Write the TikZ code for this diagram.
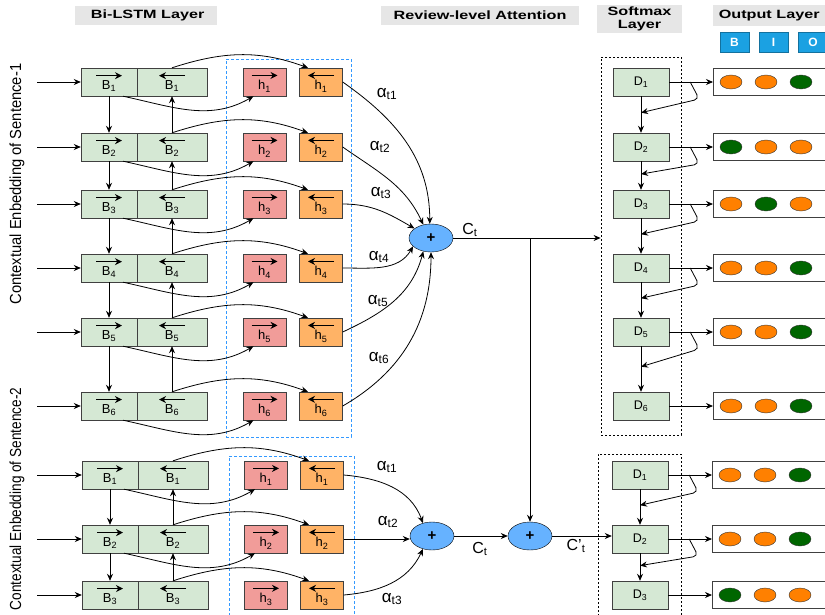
\documentclass[tikz,border=0pt]{standalone}
\usepackage{fontspec}
\setmainfont{Liberation Sans}
\usetikzlibrary{arrows.meta,shapes.geometric,calc}

\definecolor{bgreen}{HTML}{D5E8D4}
\definecolor{hred}{HTML}{F19C99}
\definecolor{horange}{HTML}{FFB366}
\definecolor{sumblue}{HTML}{66B2FF}
\definecolor{dashblue}{HTML}{3399FF}
\definecolor{hdgray}{HTML}{E6E6E6}
\definecolor{tagblue}{HTML}{1BA1E2}
\definecolor{dor}{HTML}{FF8000}
\definecolor{dgr}{HTML}{006600}

% arrow glyphs above the cell letters
\newcommand{\rarrow}{\tikz[baseline=-0.6ex]\draw[line width=1.3pt,-{Stealth[length=7pt,width=7pt]}] (0pt,0pt) -- (26pt,0pt);}
\newcommand{\larrow}{\tikz[baseline=-0.6ex]\draw[line width=1.3pt,-{Stealth[length=7pt,width=7pt]}] (26pt,0pt) -- (0pt,0pt);}
\newcommand{\fw}[2]{\shortstack{\rarrow\\[-2pt]#1\textsubscript{#2}}}
\newcommand{\bw}[2]{\shortstack{\larrow\\[-2pt]#1\textsubscript{#2}}}
\newcommand{\hd}[1]{\scalebox{1.35}[1]{#1}}

\begin{document}
\begin{tikzpicture}[x=1pt, y=1pt, font=\fontsize{13}{13}\selectfont,
  arr/.style={-{Stealth[length=7pt,width=6pt]}, line width=0.8pt},
  fcell/.style={draw=black!75, fill=bgreen, minimum width=56pt, minimum height=28pt, inner sep=0pt},
  bcell/.style={fcell, minimum width=70pt},
  hfw/.style={draw=black!75, fill=hred, minimum width=43pt, minimum height=28pt, inner sep=0pt},
  hbw/.style={hfw, fill=horange},
  dcell/.style={fcell, font=\fontsize{12.5}{13}\selectfont},
  outrow/.style={draw=black!75, fill=white, minimum width=122pt, minimum height=27pt, anchor=west},
  dot/.style={ellipse, draw=black!80, minimum width=22pt, minimum height=14pt, inner sep=0pt},
  sum/.style={ellipse, draw=black, fill=sumblue, minimum width=44pt, minimum height=28pt, inner sep=0pt, font=\bfseries\fontsize{15}{15}\selectfont},
  head/.style={fill=hdgray, inner sep=0pt, font=\bfseries\fontsize{12}{13}\selectfont},
  tag/.style={fill=tagblue, draw=tagblue!70!black, text=white, minimum width=29pt, minimum height=20pt, inner sep=0pt, font=\bfseries\fontsize{12}{12}\selectfont},
  blbox/.style={draw=dashblue, line width=0.8pt, dash pattern=on 3pt off 2pt},
  smbox/.style={draw=black, line width=0.8pt, dash pattern=on 2pt off 2pt},
  alab/.style={font=\fontsize{17}{17}\selectfont},
  clab/.style={font=\fontsize{16}{16}\selectfont}
]
\useasboundingbox (0,0) rectangle (825,-614);

% headers
\node[head, minimum width=142pt, minimum height=19pt, anchor=west] (hdlstm) at (75,-15.5) {\hspace{3pt}\hd{Bi-LSTM Layer}\hspace{22pt}};
\node[head, minimum width=198pt, minimum height=19pt] (hdatt) at (480,-15.5) {\hd{Review-level Attention}};
\node[head, minimum width=85pt, minimum height=28pt, align=center] (hdsm) at (639.5,-19) {\hd{Softmax}\\\hd{Layer}};
\node[head, minimum width=112pt, minimum height=21pt, anchor=west] (hdout) at (713,-15.5) {\hd{Output Layer}};
\node[tag] (tagb) at (734.5,-42) {B};
\node[tag] (tagi) at (773.5,-42) {I};
\node[tag] (tago) at (813,-42) {O};

% dashed groups
\node[blbox, minimum width=125pt, minimum height=378pt] (grp1) at (288.5,-248) {};
\node[blbox, minimum width=125pt, minimum height=168pt] (grp2) at (291.5,-540) {};
\node[smbox, minimum width=80pt, minimum height=378pt] (smtop) at (641,-246) {};
\node[smbox, minimum width=83pt, minimum height=170pt] (smbot) at (639.5,-539) {};

\node[rotate=90, font=\fontsize{16}{16}\selectfont] (emb1) at (17,-184) {\scalebox{0.92}[1]{Contextual Enbedding of Sentence-1}};
\node[rotate=90, font=\fontsize{16}{16}\selectfont] (emb2) at (17,-499) {\scalebox{0.85}[1]{Contextual Enbedding of Sentence-2}};

% sentence 1
\foreach \y/\ca/\cb/\cc [count=\i] in {82/dor/dor/dgr, 147/dgr/dor/dor, 204/dor/dgr/dor,
                                       268/dor/dor/dgr, 332/dor/dor/dgr, 406/dor/dor/dgr} {
  \node[fcell] (f\i) at (109,-\y) {\fw{B}{\i}};
  \node[bcell] (b\i) at (172,-\y) {\bw{B}{\i}};
  \node[hfw] (hf\i) at (264.5,-\y) {\fw{h}{\i}};
  \node[hbw] (hb\i) at (321,-\y) {\bw{h}{\i}};
  \node[dcell] (d\i) at (641,-\y) {D\textsubscript{\i}};
  \node[outrow] (o\i) at (713,-\y) {};
  \node[dot, fill=\ca] (c\i-1) at (731,-\y) {};
  \node[dot, fill=\cb] (c\i-2) at (766,-\y) {};
  \node[dot, fill=\cc] (c\i-3) at (801,-\y) {};
  \coordinate (in\i) at (37,-\y);
  \draw[arr] (in\i) -- (f\i);
  \draw[arr] (d\i) -- (o\i);
  \draw[arr] ([xshift=14pt]f\i.south) to[out=-12,in=-150] ([xshift=-11pt]hf\i.south);
  \draw[arr] (b\i.north) to[out=18,in=160] ([xshift=-13pt]hb\i.north);
}
\foreach \i/\j in {1/2,2/3,3/4,4/5,5/6} {
  \draw[arr] (f\i) -- (f\j);
  \draw[arr] (b\j) -- (b\i);
  \draw[arr] (d\i) -- (d\j);
  \draw[arr, rounded corners=5pt] ([xshift=21pt]d\i.east) -- ++(9,-17) -- ($(d\i.south)!0.45!(d\j.north)$);
}

\node[sum] (s1) at (431,-238) {+};
\draw[arr] (hb1.east) to[out=-35,in=90] (s1.95);
\draw[arr] (hb2.east) to[out=-35,in=115] (s1.120);
\draw[arr] (hb3.east) to[out=0,in=150] (s1.150);
\draw[arr] (hb4.east) to[out=0,in=-120] (s1.205);
\draw[arr] (hb5.east) to[out=25,in=-105] (s1.240);
\draw[arr] (hb6.east) to[out=30,in=-90] (s1.270);
\foreach \x/\y [count=\i] in {387/94, 380/147, 381/193, 379/257, 378/301, 379/358}
  \node[alab] (a\i) at (\x,-\y) {α\textsubscript{t\i}};
\node[clab] (ct1) at (470,-230) {C\textsubscript{t}};
\draw[arr] (s1) -- (s1 -| smtop.west);

% sentence 2
\foreach \y/\ca/\cb/\cc [count=\i] in {475/dor/dor/dgr, 539/dor/dor/dgr, 595/dgr/dor/dor} {
  \node[fcell] (lf\i) at (110,-\y) {\fw{B}{\i}};
  \node[bcell] (lb\i) at (173,-\y) {\bw{B}{\i}};
  \node[hfw] (lhf\i) at (266,-\y) {\fw{h}{\i}};
  \node[hbw] (lhb\i) at (322,-\y) {\bw{h}{\i}};
  \node[dcell] (ld\i) at (640,-\y) {D\textsubscript{\i}};
  \node[outrow] (lo\i) at (712,-\y) {};
  \node[dot, fill=\ca] (lc\i-1) at (730,-\y) {};
  \node[dot, fill=\cb] (lc\i-2) at (765,-\y) {};
  \node[dot, fill=\cc] (lc\i-3) at (800,-\y) {};
  \coordinate (lin\i) at (37,-\y);
  \draw[arr] (lin\i) -- (lf\i);
  \draw[arr] (ld\i) -- (lo\i);
  \draw[arr] (lb\i.north) to[out=18,in=160] ([xshift=-13pt]lhb\i.north);
}
\foreach \i/\j in {1/2,2/3} {
  \draw[arr] ([xshift=14pt]lf\i.south) to[out=-12,in=-150] ([xshift=-11pt]lhf\i.south);
  \draw[arr] (lf\i) -- (lf\j);
  \draw[arr] (lb\j) -- (lb\i);
  \draw[arr] (ld\i) -- (ld\j);
  \draw[arr, rounded corners=5pt] ([xshift=21pt]ld\i.east) -- ++(9,-17) -- ($(ld\i.south)!0.45!(ld\j.north)$);
}

\node[sum] (s3) at (432,-536) {+};
\node[sum] (s4) at (530,-536) {+};
\draw[arr] (lhb1.east) to[out=-5,in=110] (s3.125);
\draw[arr] (lhb2.east) -- (lhb2.east -| s3.west);
\draw[arr] (lhb3.east) to[out=5,in=-115] (s3.235);
\foreach \x/\y [count=\i] in {387/467, 388/522, 392/599}
  \node[alab] (la\i) at (\x,-\y) {α\textsubscript{t\i}};
\node[clab] (ct2) at (480,-549) {C\textsubscript{t}};
\node[clab] (ct3) at (576,-546) {C'\textsubscript{t}};
\draw[arr] (s3) -- (s4);
\draw[arr] (s4) -- (s4 -| ld2.west);
\coordinate (br) at (s4 |- s1);
\draw[arr] (br) -- (s4);
\end{tikzpicture}
\end{document}
